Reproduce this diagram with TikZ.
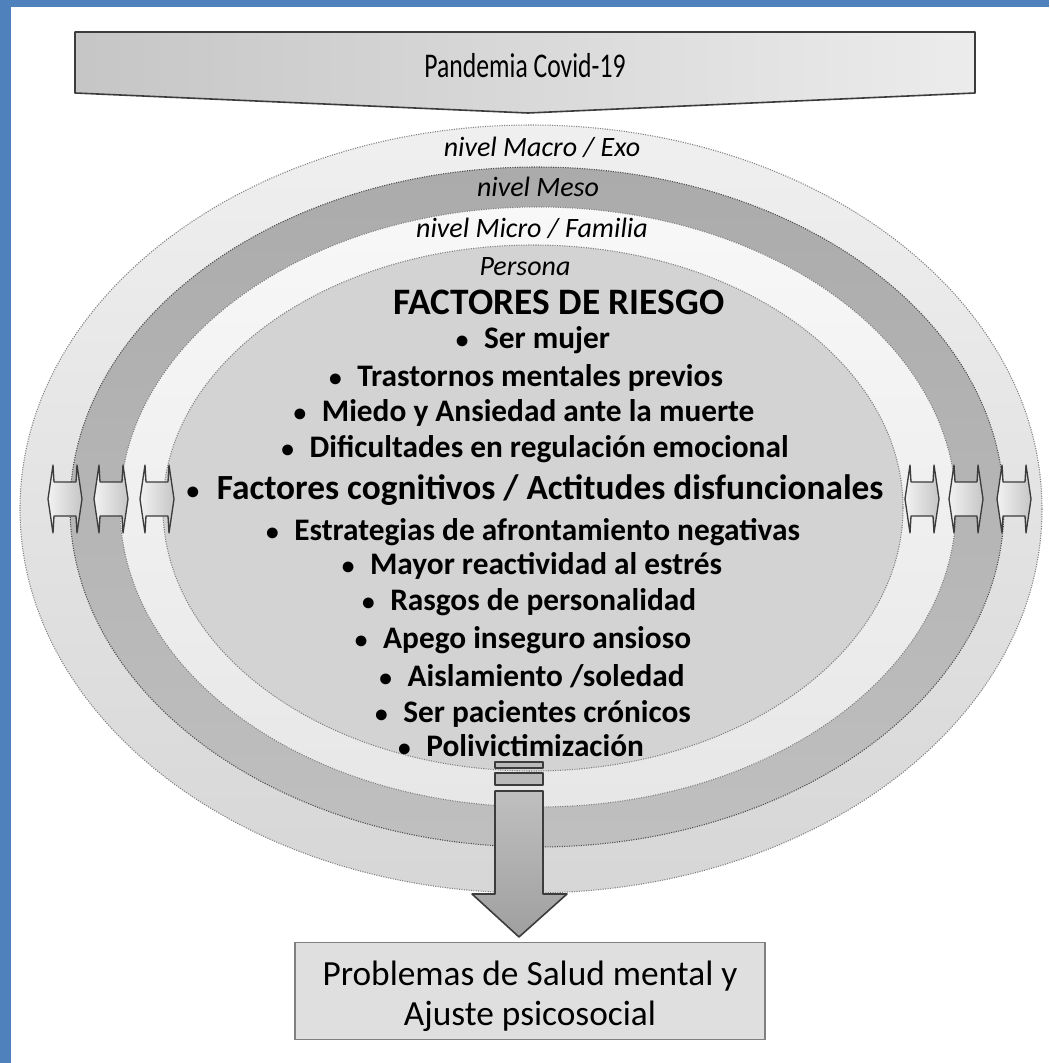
\documentclass[tikz,border=0pt]{standalone}
\usepackage{fontspec}
\setmainfont{Carlito}
\usetikzlibrary{calc}

\definecolor{frameblue}{HTML}{4F81BD}
\definecolor{outerband}{HTML}{E9E9E9}
\definecolor{mesoband}{HTML}{B4B4B4}
\definecolor{microband}{HTML}{F3F3F3}
\definecolor{personafill}{HTML}{D3D3D3}
\definecolor{edgegray}{HTML}{3C3C3C}

\tikzset{
    ring/.style={densely dotted, draw=gray, line width=0.8pt},
    levellabel/.style={font=\fontsize{21}{25}\selectfont\itshape},
    riskitem/.style={font=\fontsize{23.5}{28}\selectfont\bfseries},
    blockarrow/.style={draw=edgegray, line width=1.2pt, line join=round},
}

\newcommand{\bul}{{\fontsize{19}{20}\selectfont\textbullet}\hspace{0.5em}}

\begin{document}
\begin{tikzpicture}[x=0.75pt, y=-0.75pt]
    \useasboundingbox (0,0) rectangle (1049,1063);
    % page frame
    \fill[white] (0,0) rectangle (1049,1063);
    \fill[frameblue] (0,0) rectangle (1049,7);
    \fill[frameblue] (0,0) rectangle (11,1063);

    % nested levels
    \draw[ring, top color=outerband!70!white, bottom color=outerband!92!black] (531,509) ellipse [x radius=511, y radius=384];
    \draw[ring, draw=black!70, top color=mesoband!95!black, bottom color=mesoband!85!white] (537,507) ellipse [x radius=467, y radius=340];
    \draw[ring, top color=microband!60!white, bottom color=microband!95!black] (538,507) ellipse [x radius=418, y radius=300];
    \draw[ring, fill=personafill] (533,508) ellipse [x radius=370, y radius=263];

    % top arrow
    \draw[blockarrow, left color=gray!45, right color=gray!15] (75,32) -- (975,32) -- (975,93) -- (528,113) -- (75,93) -- cycle;
    \node (pandemia) at (525,66) {\scalebox{0.74}[1]{\fontsize{26}{30}\selectfont Pandemia Covid-19}};

    % level labels
    \node[levellabel] (macro) at (542,147) {nivel Macro / Exo};
    \node[levellabel] (meso) at (538,187) {nivel Meso};
    \node[levellabel] (micro) at (532,228) {nivel Micro / Familia};
    \node[levellabel] (persona) at (525,267) {Persona};

    % risk factors
    \node[font=\fontsize{28}{32}\selectfont\bfseries] (title) at (559,302) {FACTORES DE RIESGO};
    \node[riskitem] (f1) at (533,340) {\bul Ser mujer};
    \node[riskitem] (f2) at (526,378) {\bul Trastornos mentales previos};
    \node[riskitem] (f3) at (524,413) {\bul Miedo y Ansiedad ante la muerte};
    \node[riskitem] (f4) at (535,449) {\bul Dificultades en regulación emocional};
    \node[font=\fontsize{26.5}{30}\selectfont\bfseries] (f5) at (535,490) {\bul Factores cognitivos / Actitudes disfuncionales};
    \node[riskitem] (f6) at (533,532) {\bul Estrategias de afrontamiento negativas};
    \node[riskitem] (f7) at (532,566) {\bul Mayor reactividad al estrés};
    \node[riskitem] (f8) at (529,602) {\bul Rasgos de personalidad};
    \node[riskitem] (f9) at (523,640) {\bul Apego inseguro ansioso};
    \node[riskitem] (f10) at (532,676) {\bul Aislamiento /soledad};
    \node[riskitem] (f11) at (533,714) {\bul Ser pacientes crónicos};
    \node[riskitem] (f12) at (521,746) {\bul Polivictimización};

    % side double arrows
    \foreach \ax in {65,111,157,922,966,1014} {
        \begin{scope}[shift={(\ax,499)}]
            \draw[blockarrow, line width=1pt, left color=gray!10, right color=gray!45]
                (-17,0) -- (-12,-34) -- (-11,-17) -- (11,-17) -- (12,-34) -- (17,0)
                -- (12,34) -- (11,17) -- (-11,17) -- (-12,34) -- cycle;
        \end{scope}
    }

    % outcome
    \node[draw=gray, line width=0.8pt, fill=gray!25, minimum width=352.5pt, minimum height=72.75pt] (outcome) at (530,991) {};
    \node[align=center, font=\fontsize{26.5}{30}\selectfont] (outcometext) at (530,996)
          {Problemas de Salud mental y\\Ajuste psicosocial};

    % down arrow into outcome
    \begin{scope}[shift={(outcome.north)}]
        \draw[blockarrow, fill=gray!55] (-35,-180) rectangle (13,-174);
        \draw[blockarrow, fill=gray!55] (-35,-169) rectangle (13,-157);
        \draw[blockarrow, top color=gray!50, bottom color=gray!75]
            (-35,-151) -- (13,-151) -- (13,-48) -- (37,-48) -- (-11,-5) -- (-58,-48) -- (-35,-48) -- cycle;
    \end{scope}
\end{tikzpicture}
\end{document}
